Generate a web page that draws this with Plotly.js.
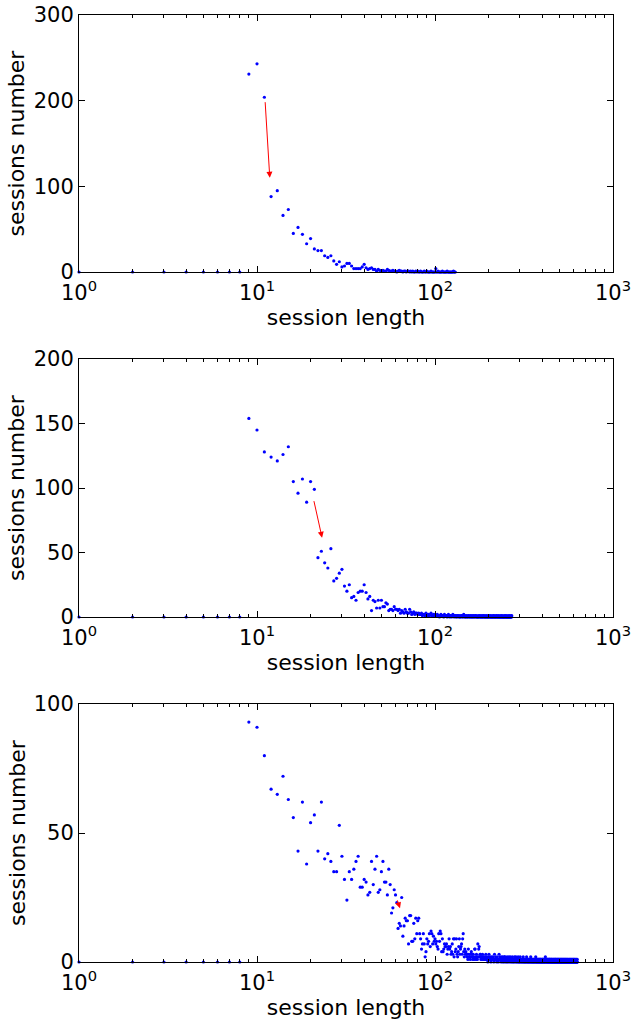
<!DOCTYPE html>
<html>
<head>
<meta charset="utf-8">
<script src="https://cdn.plot.ly/plotly-3.0.1.min.js"></script>
<style>html,body{margin:0;padding:0;background:#fff;}#chart{width:636px;height:1023px;}</style>
</head>
<body>
<div id="chart"></div>
<script>
// Session counts for session lengths 1..N (one value per integer length)
const sessionsTop = [
  0,0,0,0,0,0,0,0,231,243,
  204,88,95,66,73,45,52,44,33,39,
  27,25,25,19,17,19,13,9,12,6,
  7,10,10,7,4,4,4,4,6,9,
  5,3,4,5,3,3,1,3,2,1,
  2,1,1,3,2,1,1,2,1,1,
  0,1,2,1,1,0,1,1,0,1,
  1,0,1,0,1,0,0,1,0,1,
  0,0,1,0,0,0,1,0,0,1,
  0,0,0,0,1,0,0,0,0,0,
  4,0,0,1,0,0,0,0,0,1,
  0,0,0,0,0,0,1,0,0,0,
  0,0,0,0,0,0,1,0,0,0
];
const sessionsMiddle = [
  0,0,0,0,0,0,0,0,154,145,
  128,124,121,126,132,105,96,107,89,105,
  99,46,51,42,38,53,28,30,34,37,
  24,20,25,15,16,13,19,20,20,25,
  19,14,16,5,13,12,7,13,7,13,
  8,8,11,10,5,6,6,5,8,6,
  6,5,6,3,5,4,3,6,4,3,
  3,6,4,2,3,4,2,3,3,2,
  3,2,2,3,1,2,2,1,3,2,
  1,2,1,2,3,1,1,2,1,2,
  1,1,2,1,1,0,1,2,1,1,
  1,0,2,1,1,1,0,1,2,1,
  0,1,1,0,1,2,1,0,1,1,
  0,1,0,1,1,0,1,0,0,1,
  1,0,1,0,2,1,0,0,1,0,
  1,0,0,1,1,0,0,1,0,1,
  0,0,1,0,1,0,0,1,1,0,
  0,1,0,0,0,1,0,1,0,0,
  1,0,0,1,0,0,1,0,1,0,
  0,0,1,0,0,1,0,0,0,1,
  0,1,0,0,1,0,0,0,1,0,
  0,0,1,0,1,0,0,0,0,1,
  0,1,0,0,0,1,0,0,1,0,
  0,0,0,1,0,0,1,0,0,0,
  1,0,0,0,0,1,0,0,1,0,
  0,0,1,0,0,0,0,1,0,0,
  0,1,0,0,0,0,1,0,0,1
];
const sessionsBottom = [
  0,0,0,0,0,0,0,0,93,91,
  80,67,65,72,63,56,43,62,38,54,
  57,43,62,40,42,39,35,35,53,41,
  32,24,35,32,36,39,41,29,29,32,
  31,26,27,39,30,36,41,27,28,35,
  39,31,31,26,36,30,19,21,28,26,
  23,13,15,14,25,10,14,17,16,16,
  7,18,18,8,8,15,9,17,11,16,
  17,11,9,5,7,11,7,2,4,9,
  7,8,11,6,12,11,7,10,8,9,
  7,8,6,5,11,8,12,11,4,9,
  4,5,7,6,6,7,3,5,6,9,
  5,6,3,4,7,3,9,2,9,4,
  5,9,3,2,4,6,9,3,5,6,
  7,3,9,11,4,2,5,3,4,3,
  2,3,1,5,3,2,2,1,3,4,
  3,2,1,3,2,1,5,5,2,1,
  3,2,1,7,2,5,6,2,3,3,
  1,2,2,1,3,2,1,2,1,1,
  2,1,3,1,2,1,1,0,2,1,
  3,1,1,2,1,0,1,2,1,1,
  1,2,1,0,1,3,1,1,2,1,
  1,0,1,2,1,1,0,1,3,1,
  1,2,1,1,0,1,2,1,1,0,
  2,1,1,0,1,2,2,1,0,1,
  1,1,0,2,1,1,0,1,1,2,
  1,0,1,1,2,1,0,1,1,1,
  0,2,1,1,0,1,1,0,1,2,
  1,1,0,1,2,1,0,1,1,0,
  1,1,2,0,1,1,0,1,0,1,
  2,1,0,1,1,0,1,1,0,1,
  1,0,2,1,0,1,1,0,1,0,
  1,1,0,1,0,1,2,1,0,1,
  0,1,1,0,1,0,1,1,0,1,
  1,0,1,0,2,1,0,1,1,0,
  1,0,1,1,0,1,0,1,0,1,
  1,0,1,0,1,1,0,2,1,0,
  1,0,1,0,1,0,1,1,0,1,
  0,1,0,1,1,0,1,0,1,0,
  1,1,0,1,0,1,0,0,1,1,
  0,1,0,1,0,1,1,0,1,0,
  1,0,1,0,1,0,2,1,0,1,
  1,0,1,1,0,0,1,0,1,1,
  0,1,0,1,0,0,1,1,0,1,
  0,1,1,0,0,1,0,1,0,1,
  1,0,0,1,0,1,0,0,1,0,
  1,0,1,0,0,1,0,1,0,0,
  1,0,1,1,0,0,1,0,1,0,
  0,1,0,0,1,0,1,0,0,1,
  0,1,0,1,0,0,1,0,0,1,
  0,0,1,0,1,0,0,1,0,0,
  1,0,0,1,0,1,0,0,0,1,
  0,1,0,0,1,0,0,1,0,0,
  1,0,0,0,1,0,1,0,0,1,
  0,0,1,0,0,1,0,0,0,1,
  0,1,0,0,0,1,0,0,1,0,
  0,0,1,0,0,0,1,0,0,1,
  0,0,0,1,0,0,1,0,0,0,
  1,0,0,1,0,0,0,1,0,0,
  0,1,0,0,0,1,0,0,1,0,
  0,0,1,0,0,0,0,1,0,0,
  1,0,0,0,1,0,0,0,0,1,
  0,0,0,1,0,0,0,0,0,1
];
// Red arrows: [tail length, tail count, head length, head count]
const arrowTop = [11.1, 200, 11.8, 110];
const arrowMiddle = [20.8, 91, 23.2, 61.5];
const arrowBottom = [61, 24.5, 63.6, 20.8];

const xTickVals = [1, 10, 100, 1000];
const xTickText = ['10<sup>0</sup>', '10<sup>1</sup>', '10<sup>2</sup>', '10<sup>3</sup>'];
const minorTickVals = [2,3,4,5,6,7,8,9,20,30,40,50,60,70,80,90,200,300,400,500,600,700,800,900];
const yTopTicks = [0, 100, 200, 300];
const yMiddleTicks = [0, 50, 100, 150, 200];
const yBottomTicks = [0, 50, 100];

const series = [sessionsTop, sessionsMiddle, sessionsBottom];
const FONT = 'DejaVu Sans, Verdana, sans-serif';
const traces = series.map((vals, i) => ({
  type: 'scatter', mode: 'markers',
  x: vals.map((v, k) => k + 1), y: vals,
  xaxis: i === 0 ? 'x' : 'x' + (i + 1),
  yaxis: i === 0 ? 'y' : 'y' + (i + 1),
  marker: {color: '#0000ff', size: 3.2, line: {width: 0}},
  cliponaxis: false, showlegend: false, hoverinfo: 'skip'
}));

function xax(anchor) {
  return {
    type: 'log', range: [0, 3], anchor: anchor,
    tickvals: xTickVals, ticktext: xTickText,
    ticks: 'inside', ticklen: 6, tickcolor: '#000', tickwidth: 1,
    minor: {tickvals: minorTickVals, ticks: 'inside', ticklen: 3, tickcolor: '#000', tickwidth: 1, showgrid: false},
    showline: true, linecolor: '#000', linewidth: 1, mirror: 'allticks',
    showgrid: false, zeroline: false,
    tickfont: {family: FONT, size: 21, color: '#000'},
    ticklabelstandoff: 2,
    title: {text: 'session length', font: {family: FONT, size: 22, color: '#000'}, standoff: 2},
    fixedrange: true
  };
}
function yax(anchor, range, ticks) {
  return {
    range: range, anchor: anchor, tickvals: ticks,
    ticks: 'inside', ticklen: 6, tickcolor: '#000', tickwidth: 1,
    showline: true, linecolor: '#000', linewidth: 1, mirror: 'allticks',
    showgrid: false, zeroline: false,
    tickfont: {family: FONT, size: 21, color: '#000'},
    title: {text: 'sessions number', font: {family: FONT, size: 22, color: '#000'}, standoff: 2},
    fixedrange: true
  };
}

function arrow(a, xref, yref) {
  return {
    x: Math.log10(a[2]), y: a[3], ax: Math.log10(a[0]), ay: a[1],
    xref: xref, yref: yref, axref: xref, ayref: yref,
    text: '', showarrow: true, arrowhead: 2, arrowsize: 1.2, arrowwidth: 1,
    arrowcolor: '#ff0000', standoff: 0, startstandoff: 0
  };
}

const layout = {
  width: 636, height: 1023,
  margin: {l: 79, r: 23, t: 15, b: 61},
  paper_bgcolor: '#fff', plot_bgcolor: '#fff',
  xaxis: Object.assign(xax('y'), {domain: [0, 1]}),
  yaxis: Object.assign(yax('x', [0, 300], yTopTicks), {domain: [0.7286, 1]}),
  xaxis2: Object.assign(xax('y2'), {domain: [0, 1]}),
  yaxis2: Object.assign(yax('x2', [0, 200], yMiddleTicks), {domain: [0.3643, 0.6367]}),
  xaxis3: Object.assign(xax('y3'), {domain: [0, 1]}),
  yaxis3: Object.assign(yax('x3', [0, 100], yBottomTicks), {domain: [0, 0.2724]}),
  annotations: [arrow(arrowTop, 'x', 'y'), arrow(arrowMiddle, 'x2', 'y2'), arrow(arrowBottom, 'x3', 'y3')],
  font: {family: FONT, color: '#000'}
};

Plotly.newPlot('chart', traces, layout, {displayModeBar: false, staticPlot: true});
</script>
</body>
</html>
